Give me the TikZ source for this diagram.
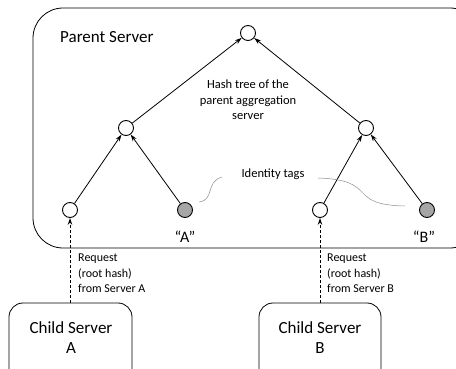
\documentclass[tikz,border=0pt]{standalone}
\usepackage{fontspec}
\setmainfont{Carlito}
\usetikzlibrary{arrows.meta}
\tikzset{
  hnode/.style={circle,draw,line width=0.9pt,minimum size=15pt,inner sep=0pt,fill=white},
  gnode/.style={hnode,fill=black!35},
  tarrow/.style={line width=0.8pt,-{Stealth[length=7pt,width=4.5pt]}},
  darrow/.style={line width=0.8pt,dashed,dash pattern=on 3pt off 2pt,-{Stealth[length=7pt,width=4.5pt]}},
  box/.style={draw,line width=0.8pt,rounded corners=14pt},
  lbl/.style={font=\fontsize{12.5}{15.5}\selectfont,align=center,inner sep=0pt},
  rlbl/.style={font=\fontsize{12}{15.5}\selectfont,align=left,inner sep=0pt,anchor=north west},
  curvy/.style={draw=black!45,line width=0.5pt}
}
\begin{document}
\begin{tikzpicture}[x=1pt,y=-1pt]
\useasboundingbox (0,0) rectangle (456,369);
\clip (0,0) rectangle (456,369);
\draw[box,rounded corners=30pt] (33,8) rectangle (480,248);
\node[anchor=west,font=\fontsize{17}{20}\selectfont,inner sep=0pt] (ps) at (60,37) {Parent Server};
\node[hnode] (root) at (248,33) {};
\node[hnode] (ml) at (126,128) {};
\node[hnode] (mr) at (366,128) {};
\node[hnode] (l1) at (70,210) {};
\node[gnode] (l2) at (185,210) {};
\node[hnode] (l3) at (320,210) {};
\node[gnode] (l4) at (427,210) {};
\draw[tarrow] (ml) -- (root);
\draw[tarrow] (mr) -- (root);
\draw[tarrow] (l1) -- (ml);
\draw[tarrow] (l2) -- (ml);
\draw[tarrow] (l3) -- (mr);
\draw[tarrow] (l4) -- (mr);
\node[lbl] (ht) at (248,100) {Hash tree of the\\parent aggregation\\server};
\node[lbl] (it) at (273,174) {Identity tags};
\node[font=\fontsize{16}{18}\selectfont,inner sep=0pt] (qa) at (185,237) {“A”};
\node[font=\fontsize{16}{18}\selectfont,inner sep=0pt] (qb) at (424,237) {“B”};
\coordinate (ca1) at (222,177);
\coordinate (ca2) at (199,202);
\draw[curvy] (ca1) .. controls (205,182) and (215,200) .. (ca2);
\coordinate (cb1) at (318,178);
\coordinate (cb2) at (405,206);
\draw[curvy] (cb1) .. controls (380,180) and (345,205) .. (cb2);
\draw[box] (9,303) rectangle (132,390);
\draw[box] (259,303) rectangle (381,390);
\node[align=center,font=\fontsize{17}{20}\selectfont,inner sep=0pt] (cA) at (71,338) {Child Server\\A};
\node[align=center,font=\fontsize{17}{20}\selectfont,inner sep=0pt] (cB) at (320,338) {Child Server\\B};
\coordinate (dA) at (70,303);
\coordinate (dB) at (320,303);
\draw[darrow] (dA) -- (l1);
\draw[darrow] (dB) -- (l3);
\node[rlbl] (ra) at (78,254) {Request\\(root hash)\\from Server A};
\node[rlbl] (rb) at (327,254) {Request\\(root hash)\\from Server B};
\end{tikzpicture}
\end{document}
